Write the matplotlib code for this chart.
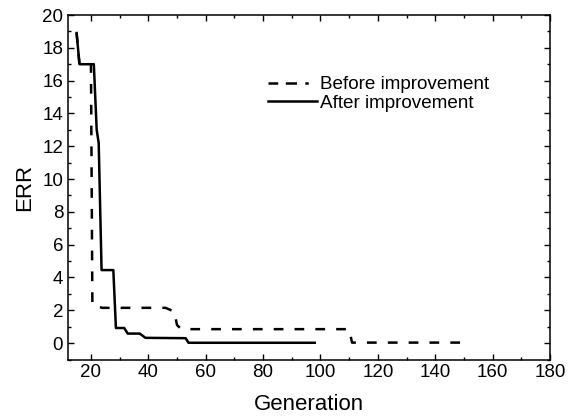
import matplotlib
matplotlib.use("Agg")
import matplotlib.pyplot as plt
from matplotlib.ticker import MultipleLocator
from matplotlib.lines import Line2D

plt.rcParams['font.family'] = ['Liberation Sans', 'DejaVu Sans']
plt.rcParams['lines.scale_dashes'] = False

before_x = [15, 16, 20, 20.5, 24, 46, 48, 49, 50, 51.5, 110, 111, 150]
before_y = [18.9, 17, 17, 2.3, 2.15, 2.15, 2.0, 1.95, 1.1, 0.85, 0.85, 0.03, 0.03]
after_x = [15, 16, 21, 22, 22.7, 23.7, 27.8, 28.7, 31.6, 32.8, 37, 39, 53, 54, 98]
after_y = [18.9, 17, 17, 13, 12.2, 4.45, 4.45, 0.92, 0.92, 0.58, 0.58, 0.32, 0.3, 0.02, 0.02]
labels = ['Before improvement', 'After improvement']

fig = plt.figure(figsize=(5.68, 4.2), dpi=100)
ax = fig.add_axes([68/568, 1-359.5/420, (550-68)/568, (359.5-15)/420])

ax.plot(before_x, before_y, color='black', lw=1.8, dashes=(7, 8))
ax.plot(after_x, after_y, color='black', lw=1.8)

ax.set_xlim(12, 180)
ax.set_ylim(-1, 20)
ax.xaxis.set_major_locator(MultipleLocator(20))
ax.xaxis.set_minor_locator(MultipleLocator(10))
ax.yaxis.set_major_locator(MultipleLocator(2))
ax.yaxis.set_minor_locator(MultipleLocator(1))
ax.tick_params(which='both', direction='in', top=True, right=True, width=1.0, labelsize=13.5)
ax.tick_params(which='major', length=4.5)
ax.tick_params(which='minor', length=2.5)
for s in ax.spines.values():
    s.set_linewidth(1.1)

ax.set_xlabel('Generation', fontsize=16, labelpad=9)
ax.set_ylabel('ERR', fontsize=16, labelpad=5)

h1 = Line2D([], [], color='black', lw=1.8, dashes=(7, 5.5, 8, 6, 2.5, 10))
h2 = Line2D([], [], color='black', lw=1.8)
ax.legend([h1, h2], labels, loc='upper left', bbox_to_anchor=(0.4, 0.845), frameon=False, fontsize=13.6,
          handlelength=2.55, handletextpad=0.2, labelspacing=0.08, borderaxespad=0)

fig.savefig('out.png', dpi=100)
